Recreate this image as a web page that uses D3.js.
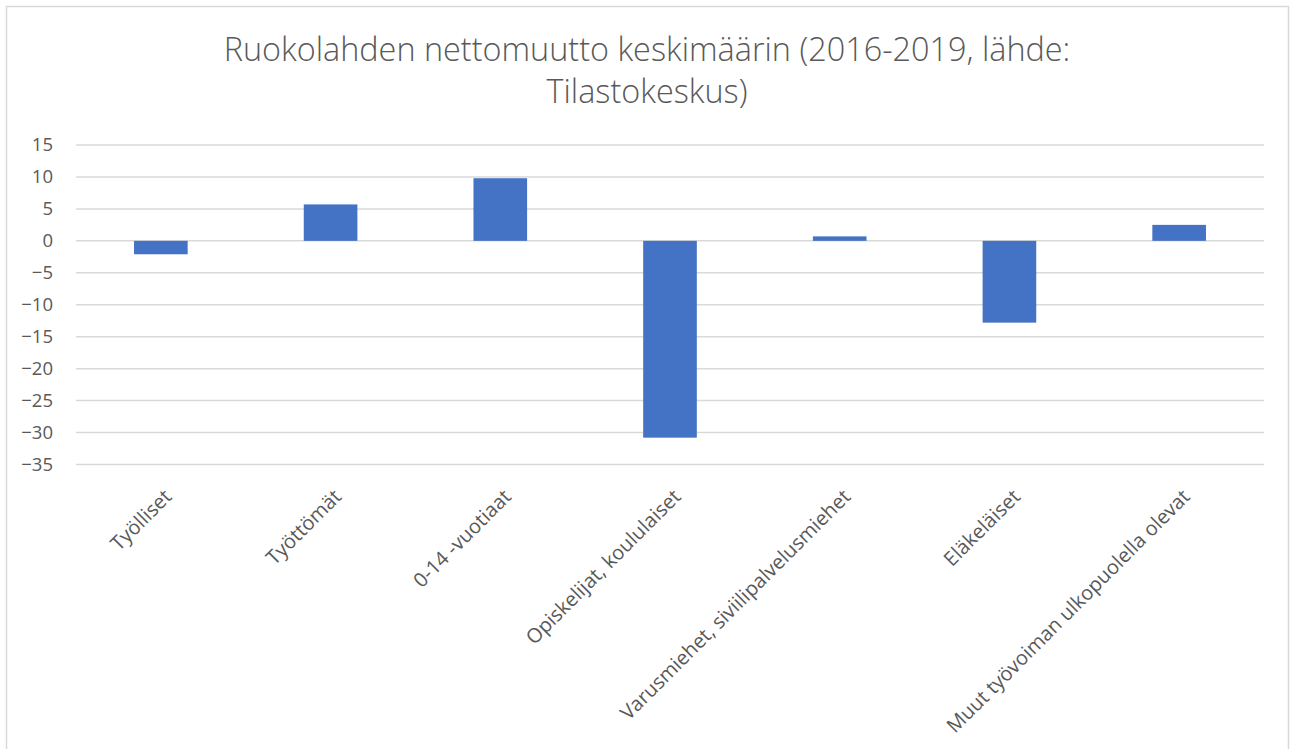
<!DOCTYPE html>
<html>
<head>
<meta charset="utf-8">
<script src="https://cdn.jsdelivr.net/npm/d3@7"></script>
<style>
  body { margin: 0; background: #fff; }
  text { font-family: "Open Sans", sans-serif; fill: #595959; }
</style>
</head>
<body>
<div id="chart"></div>
<script>
// data
const categories = ["Työlliset", "Työttömät", "0-14 -vuotiaat", "Opiskelijat, koululaiset",
  "Varusmiehet, siviilipalvelusmiehet", "Eläkeläiset", "Muut työvoiman ulkopuolella olevat"];
const values = [-2.1, 5.7, 9.8, -30.8, 0.7, -12.8, 2.5];
const yTicks = [15, 10, 5, 0, -5, -10, -15, -20, -25, -30, -35];
const titleLines = ["Ruokolahden nettomuutto keskimäärin (2016-2019, lähde:", "Tilastokeskus)"];

const w = 1290, h = 749;
const plotLeft = 76, plotRight = 1264, plotTop = 145, plotBottom = 464.5;

let svg = d3.select("#chart").append("svg")
  .attr("width", w)
  .attr("height", h);

// chart border
svg.append("rect")
  .attr("x", 6.5).attr("y", 6.5)
  .attr("width", 1282).attr("height", 780)
  .attr("fill", "#fff")
  .attr("stroke", "#d9d9d9")
  .attr("stroke-width", 1.5);

// title
svg.append("g")
  .selectAll("text")
  .data(titleLines)
  .enter()
  .append("text")
  .attr("x", 647)
  .attr("y", (d, i) => 61 + i * 42)
  .attr("text-anchor", "middle")
  .style("font-size", "32.4px")
  .style("font-weight", 300)
  .text(d => d);

// scales
var x = d3.scaleBand()
  .domain(categories)
  .range([plotLeft, plotRight])
  .paddingInner(0.684)
  .paddingOuter(0.342);

var y = d3.scaleLinear()
  .domain([-35, 15])
  .range([plotBottom, plotTop]);

// gridlines
svg.append("g")
  .selectAll("line")
  .data(yTicks)
  .enter()
  .append("line")
  .attr("x1", plotLeft).attr("x2", plotRight)
  .attr("y1", d => y(d)).attr("y2", d => y(d))
  .attr("stroke", "#d9d9d9")
  .attr("stroke-width", 1.5);

// y axis labels
svg.append("g")
  .attr("transform", `translate(${plotLeft},0)`)
  .call(d3.axisLeft(y).tickValues(yTicks).tickSize(0).tickPadding(23))
  .call(g => g.select(".domain").remove())
  .selectAll("text")
  .style("font-size", "18.5px")
  .style("font-family", "'Open Sans', sans-serif")
  .attr("fill", "#595959");

// bars
svg.append("g")
  .selectAll("rect")
  .data(values)
  .enter()
  .append("rect")
  .attr("x", (d, i) => x(categories[i]))
  .attr("width", x.bandwidth())
  .attr("y", d => y(Math.max(0, d)))
  .attr("height", d => Math.abs(y(d) - y(0)))
  .attr("fill", "#4472c4");

// category labels, rotated
svg.append("g")
  .selectAll("text")
  .data(categories)
  .enter()
  .append("text")
  .attr("transform", d => `translate(${x(d) + x.bandwidth() / 2 + 12},498) rotate(-45)`)
  .attr("text-anchor", "end")
  .style("font-size", "20px")
  .text(d => d);
</script>
</body>
</html>
